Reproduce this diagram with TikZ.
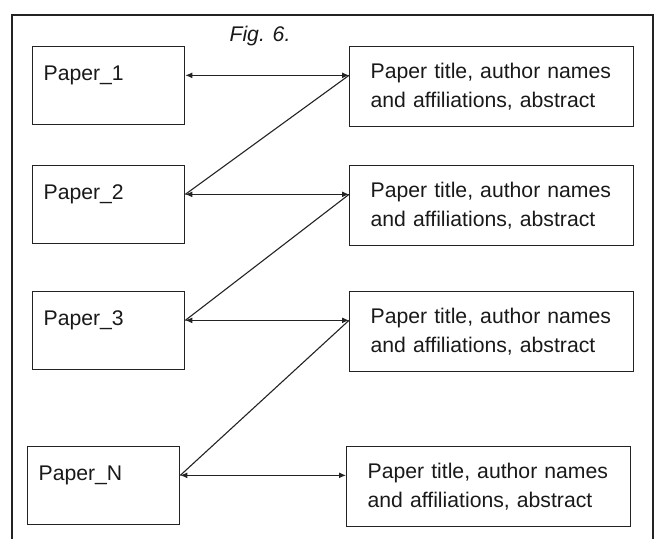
\documentclass[tikz,border=0pt]{standalone}
\usepackage{fontspec}
\setmainfont{Liberation Sans}
\usetikzlibrary{arrows.meta}
\definecolor{figline}{RGB}{35,35,35}
\definecolor{figtext}{RGB}{25,25,25}

\begin{document}
\begin{tikzpicture}[x=0.5pt,y=-0.5pt,>={Latex[length=3.5pt,width=3pt]},
  every node/.style={font=\fontsize{10.6}{14.5}\selectfont,text=figtext},
  paperbox/.style={draw=figline,line width=0.65pt,anchor=north west,text width=65pt,align=left,inner xsep=5.5pt,inner ysep=0pt,text height=17pt,text depth=22pt},
  infobox/.style={draw=figline,line width=0.65pt,anchor=north west,text width=121pt,align=left,inner xsep=10.5pt,minimum height=40pt},
  link/.style={figline,line width=0.55pt}]
  \useasboundingbox (0,0) rectangle (659,539);
  % open frame round the figure
  \draw[figline,line width=0.65pt] (12,539) -- (12,15) -- (653,15) -- (653,539);
  \node[font=\fontsize{10.6}{14.5}\selectfont\itshape] (cap) at (260,36) {Fig. 6.};
  % papers on the left, their records on the right
  \node[paperbox] (p1) at (32,46) {Paper\_1};
  \node[paperbox] (p2) at (32,165) {Paper\_2};
  \node[paperbox] (p3) at (32,291) {Paper\_3};
  \node[paperbox] (pN) at (27,446) {Paper\_N};
  \node[infobox] (r1) at (349,46) {Paper title, author names\\and affiliations, abstract};
  \node[infobox] (r2) at (349,165) {Paper title, author names\\and affiliations, abstract};
  \node[infobox] (r3) at (349,291) {Paper title, author names\\and affiliations, abstract};
  \node[infobox] (rN) at (346,446) {Paper title, author names\\and affiliations, abstract};
  \foreach \k in {1,2,3,N}
    \draw[link,<->] (p\k.mid east) -- (p\k.mid east -| r\k.west);
  \foreach \k/\n in {1/2,2/3,3/N}
    \draw[link] (p\k.mid east -| r\k.west) -- (p\n.mid east);
\end{tikzpicture}
\end{document}
